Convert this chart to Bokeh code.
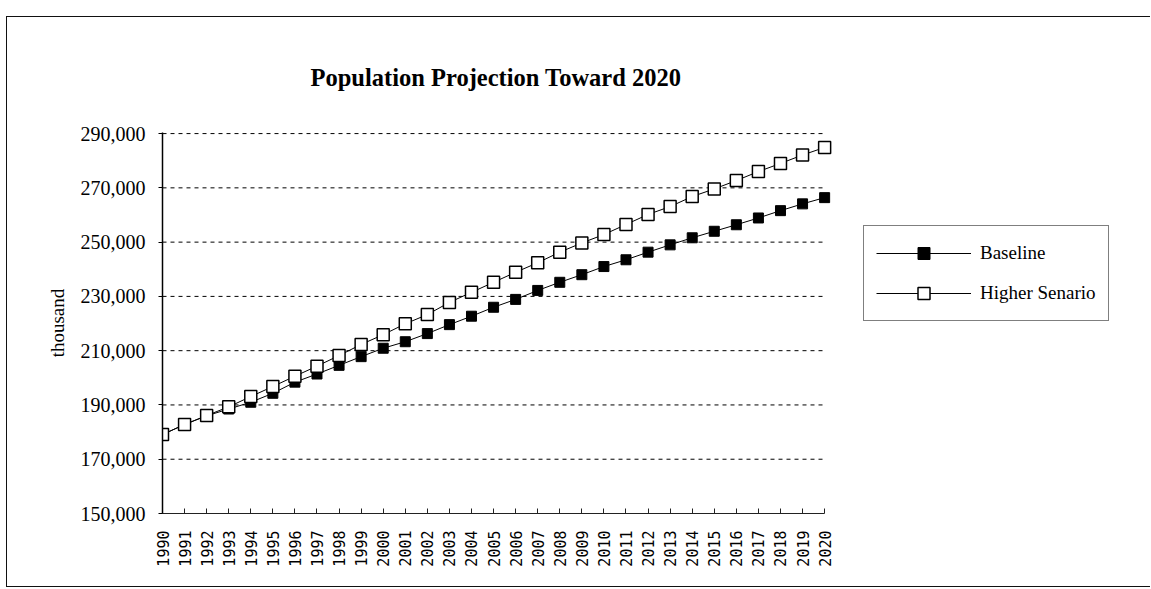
import math

from bokeh.plotting import figure
from bokeh.models import FixedTicker, NumeralTickFormatter, Legend, LegendItem
from bokeh.embed import file_html
from bokeh.resources import INLINE

# Projected population (thousand), 1990-2020
years = list(range(1990, 2021))
year_labels = [str(y) for y in years]

baseline = [179100, 182800, 186000, 188500, 191000, 194300, 198400, 201400,
            204600, 207800, 210900, 213300, 216300, 219600, 222700, 226000,
            228900, 232200, 235200, 238000, 241000, 243500, 246300, 249000,
            251600, 254000, 256400, 258900, 261600, 264100, 266400]

higher = [179100, 182800, 186100, 189300, 193100, 196800, 200600, 204300,
          208200, 212300, 215900, 219900, 223300, 227800, 231500, 235200,
          238900, 242400, 246300, 249700, 252800, 256500, 260200, 263100,
          266800, 269600, 272700, 276000, 279000, 282100, 284900]

y_ticks = list(range(150000, 290001, 20000))

SERIF = "Liberation Serif"

# The frame reaches the right edge so the legend can sit inside it; the
# axis and the dashed guide lines stop at the last year.
p = figure(
    width=1144, height=571,
    x_range=(years[0], years[0] + 44.81), y_range=(y_ticks[0], y_ticks[-1] + 400),
    output_backend="svg", toolbar_location=None,
    min_border_left=155, min_border_right=0,
    min_border_top=115, min_border_bottom=75,
    title="Population Projection Toward 2020",
)
p.styles = {
    "margin-left": "6px", "margin-top": "16px",
    "border-top": "1px solid #111", "border-left": "1px solid #111",
    "border-bottom": "1px solid #111",
}
p.outline_line_color = None
p.background_fill_color = "white"
p.border_fill_color = "white"

p.title.align = "left"
p.title.offset = 148
p.title.text_font = SERIF
p.title.text_font_size = "24.5px"
p.title.text_font_style = "bold"
p.title.text_color = "black"
p.title.standoff = 84

# y axis
p.yaxis.ticker = FixedTicker(ticks=y_ticks)
p.yaxis.formatter = NumeralTickFormatter(format="0,0")
p.yaxis.major_label_text_font = SERIF
p.yaxis.major_label_text_font_size = "20px"
p.yaxis.major_label_text_color = "black"
p.yaxis.axis_line_color = "black"
p.yaxis.axis_line_width = 1.5
p.yaxis.major_tick_out = 4
p.yaxis.major_tick_in = 0
p.yaxis.major_tick_line_color = "black"
p.yaxis.minor_tick_line_color = None
p.yaxis.major_label_standoff = 13
p.yaxis.axis_label = "thousand"
p.yaxis.axis_label_text_font = SERIF
p.yaxis.axis_label_text_font_size = "19px"
p.yaxis.axis_label_text_font_style = "normal"
p.yaxis.axis_label_text_color = "black"
p.yaxis.axis_label_standoff = 10

# x axis
p.xaxis.bounds = (years[0], years[-1])
p.xaxis.ticker = FixedTicker(ticks=years)
p.xaxis.major_label_overrides = {y: lab for y, lab in zip(years, year_labels)}
p.xaxis.major_label_orientation = math.pi / 2
p.xaxis.major_label_text_font = "DejaVu Sans Mono"
p.xaxis.major_label_text_font_size = "15px"
p.xaxis.major_label_text_color = "black"
p.xaxis.axis_line_color = "#222"
p.xaxis.axis_line_width = 1
p.xaxis.major_tick_in = 5
p.xaxis.major_tick_out = 0
p.xaxis.major_tick_line_color = "#222"
p.xaxis.minor_tick_line_color = None
p.xaxis.major_label_standoff = 17

# dashed guide lines across the year span
p.xgrid.visible = False
p.ygrid.visible = False
grid_y = y_ticks[1:]
p.segment(x0=[years[0]] * len(grid_y), x1=[years[-1]] * len(grid_y),
          y0=grid_y, y1=grid_y, line_color="black", line_width=1,
          line_dash="4 4")

# series
b_line = p.line(years, baseline, line_color="black", line_width=1)
b_mark = p.scatter(years, baseline, marker="square", size=10,
                   fill_color="black", line_color="black", line_width=1)
h_line = p.line(years, higher, line_color="black", line_width=1)
h_mark = p.scatter(years, higher, marker="square", size=12,
                   fill_color="white", line_color="black", line_width=1.5)

legend = Legend(
    items=[
        LegendItem(label="Baseline", renderers=[b_line, b_mark]),
        LegendItem(label="Higher Senario", renderers=[h_line, h_mark]),
    ],
    location=(701, 192),
    orientation="vertical",
    border_line_color="black",
    border_line_width=1,
    background_fill_color="white",
    background_fill_alpha=1,
    label_text_font=SERIF,
    label_text_font_size="19px",
    label_text_color="black",
    glyph_width=95,
    glyph_height=30,
    label_height=30,
    label_standoff=9,
    spacing=10,
    padding=12,
    margin=0,
)
p.add_layout(legend, "center")

with open("out.html", "w") as f:
    f.write(file_html(p, INLINE))
